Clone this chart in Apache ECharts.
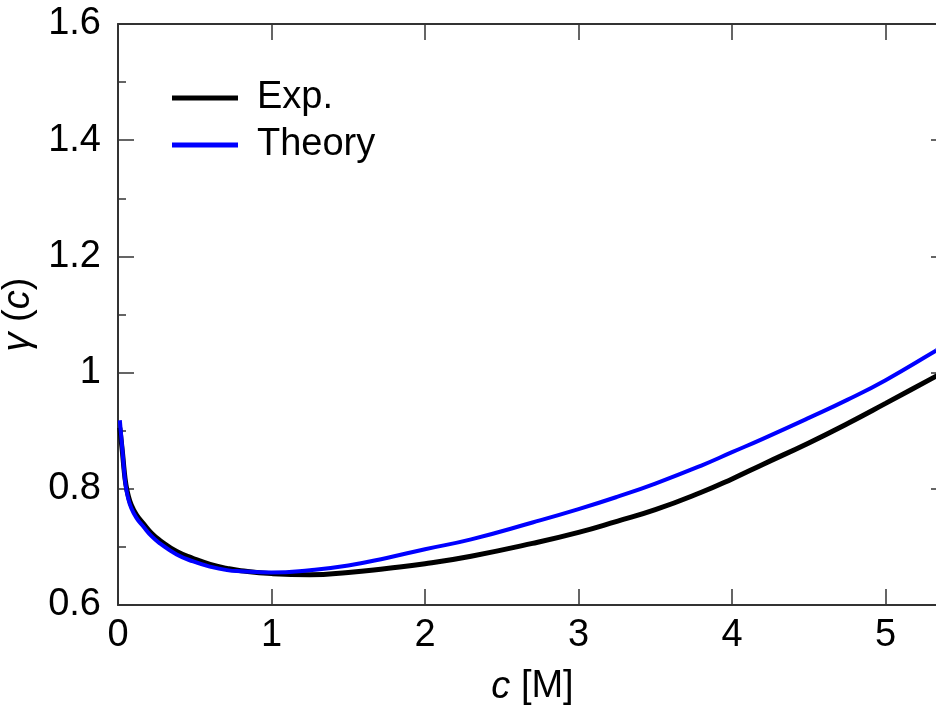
<!DOCTYPE html>
<html>
<head>
<meta charset="utf-8">
<script src="https://cdn.jsdelivr.net/npm/echarts@6/dist/echarts.min.js"></script>
<style>
html,body{margin:0;padding:0;background:#fff;}
#chart{width:936px;height:712px;}
</style>
</head>
<body>
<div id="chart"></div>
<script>
// concentration c [M]
const cValues = [0.012, 0.02, 0.03, 0.04, 0.05, 0.065, 0.085, 0.12, 0.165, 0.22, 0.273, 0.382, 0.49, 0.6, 0.71, 0.8, 1.0, 1.25, 1.5, 1.75, 2.0, 2.3, 2.7, 3.0, 3.25, 3.5, 3.8, 4.0, 4.2, 4.5, 4.75, 5.0, 5.33, 5.4];
// Exp. gamma(c)
const expValues = [0.905, 0.885, 0.860, 0.832, 0.810, 0.790, 0.773, 0.755, 0.740, 0.723, 0.711, 0.692, 0.680, 0.670, 0.663, 0.659, 0.654, 0.652, 0.656, 0.663, 0.671, 0.684, 0.706, 0.725, 0.744, 0.764, 0.794, 0.817, 0.842, 0.879, 0.912, 0.947, 0.994, 1.004];
// Theory gamma(c)
const theoryValues = [0.918, 0.893, 0.862, 0.830, 0.806, 0.785, 0.768, 0.750, 0.735, 0.718, 0.706, 0.687, 0.675, 0.666, 0.660, 0.658, 0.656, 0.660, 0.668, 0.681, 0.696, 0.713, 0.742, 0.765, 0.786, 0.809, 0.840, 0.863, 0.886, 0.922, 0.953, 0.987, 1.038, 1.049];
const seriesNames = ['Exp.', 'Theory'];
const xTickLabels = ['0', '1', '2', '3', '4', '5'];
const yTickLabels = ['0.6', '0.8', '1', '1.2', '1.4', '1.6'];

const FONT = "'Liberation Sans', Arial, Helvetica, sans-serif";
const pair = (xs, ys) => xs.map((x, i) => [x, ys[i]]);

const chart = echarts.init(document.getElementById('chart'), null, {renderer: 'canvas'});
const axisLine = {show: true, onZero: false, lineStyle: {color: '#333', width: 2}};
const tick = {show: true, inside: true, length: 16, lineStyle: {color: '#333', width: 1.5}};

chart.setOption({
  animation: false,
  backgroundColor: '#fff',
  grid: {left: 118, top: 24, right: -11, bottom: 107, containLabel: false, outerBoundsMode: 'none'},
  legend: {
    orient: 'vertical', left: 172, top: 79, padding: 0,
    icon: 'rect', itemWidth: 66, itemHeight: 5, itemGap: 9,
    data: seriesNames,
    textStyle: {fontFamily: FONT, fontSize: 38, color: '#000', padding: [0, 0, 0, 14]}
  },
  xAxis: [
    {
      type: 'value', position: 'bottom', min: 0, max: 5.4, interval: 1,
      axisLine: axisLine, axisTick: tick, splitLine: {show: false},
      axisLabel: {fontFamily: FONT, fontSize: 38, color: '#000', margin: 12, showMaxLabel: false,
        formatter: v => xTickLabels[Math.round(v)] || ''},
      name: '{i|c} [M]', nameLocation: 'middle', nameGap: 63,
      nameTextStyle: {fontFamily: FONT, fontSize: 38, color: '#000',
        rich: {i: {fontFamily: FONT, fontSize: 38, fontStyle: 'italic', color: '#000'}}}
    },
    {
      type: 'value', position: 'top', min: 0, max: 5.4, interval: 1,
      axisLine: axisLine, axisTick: tick, splitLine: {show: false},
      axisLabel: {show: false}
    }
  ],
  yAxis: [
    {
      type: 'value', position: 'left', min: 0.6, max: 1.6, interval: 0.2,
      axisLine: axisLine, axisTick: tick, splitLine: {show: false},
      minorTick: {show: true, splitNumber: 2, length: 8, lineStyle: {color: '#333', width: 1.5}},
      minorSplitLine: {show: false},
      axisLabel: {fontFamily: FONT, fontSize: 38, color: '#000', margin: 17,
        formatter: v => yTickLabels[Math.round((v - 0.6) / 0.2)] || ''},
      name: '{i|γ} ({i|c})', nameLocation: 'middle', nameGap: 48,
      nameTextStyle: {fontFamily: FONT, fontSize: 38, color: '#000',
        rich: {i: {fontFamily: FONT, fontSize: 38, fontStyle: 'italic', color: '#000'}}}
    },
    {
      type: 'value', position: 'right', min: 0.6, max: 1.6, interval: 0.2,
      axisLine: axisLine, axisTick: tick, splitLine: {show: false},
      axisLabel: {show: false}
    }
  ],
  series: [
    {
      name: seriesNames[0], type: 'line', xAxisIndex: 0, yAxisIndex: 0,
      data: pair(cValues, expValues), showSymbol: false, symbol: 'none',
      smooth: 0.5,
      lineStyle: {color: '#000', width: 5}, itemStyle: {color: '#000'}
    },
    {
      name: seriesNames[1], type: 'line', xAxisIndex: 0, yAxisIndex: 0,
      data: pair(cValues, theoryValues), showSymbol: false, symbol: 'none',
      smooth: 0.5,
      lineStyle: {color: '#0000ff', width: 4}, itemStyle: {color: '#0000ff'}
    }
  ]
});
</script>
</body>
</html>
